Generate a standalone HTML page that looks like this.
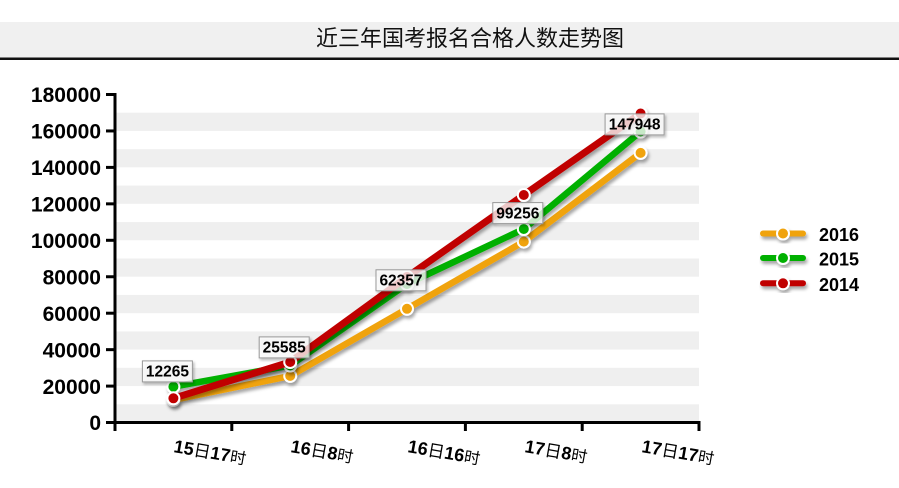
<!DOCTYPE html>
<html><head><meta charset="utf-8">
<style>
html,body{margin:0;padding:0;background:#fff;}
svg{display:block;}
</style></head>
<body>
<svg width="899" height="488" viewBox="0 0 899 488" xmlns="http://www.w3.org/2000/svg">
<defs>
<filter id="sh" x="-10%" y="-10%" width="130%" height="140%">
<feDropShadow dx="1.5" dy="3" stdDeviation="1.6" flood-color="#000" flood-opacity="0.35"/>
</filter>
<filter id="sh2" x="-20%" y="-30%" width="150%" height="180%">
<feDropShadow dx="1.5" dy="2" stdDeviation="1.2" flood-color="#000" flood-opacity="0.3"/>
</filter>
</defs>

<!-- title bar -->
<rect x="0" y="22" width="899" height="35.5" fill="#f0f0f0"/>
<rect x="0" y="57.5" width="899" height="2.5" fill="#111"/>
<text x="470" y="46" text-anchor="middle" font-family="'Liberation Sans','Noto Sans CJK SC',sans-serif" font-size="22" fill="#111">近三年国考报名合格人数走势图</text>

<!-- bands -->
<g fill="#efefef">
<rect x="116.5" y="404.3" width="582.5" height="18.2"/>
<rect x="116.5" y="367.85" width="582.5" height="18.2"/>
<rect x="116.5" y="331.4" width="582.5" height="18.2"/>
<rect x="116.5" y="294.95" width="582.5" height="18.2"/>
<rect x="116.5" y="258.5" width="582.5" height="18.2"/>
<rect x="116.5" y="222.05" width="582.5" height="18.2"/>
<rect x="116.5" y="185.6" width="582.5" height="18.2"/>
<rect x="116.5" y="149.15" width="582.5" height="18.2"/>
<rect x="116.5" y="112.7" width="582.5" height="18.2"/>
</g>

<!-- axes -->
<g stroke="#000" stroke-width="3" fill="none">
<line x1="115" y1="93.5" x2="115" y2="424"/>
<line x1="113.5" y1="422.5" x2="700.5" y2="422.5"/>
<line x1="106" y1="94.5" x2="116.5" y2="94.5"/>
<line x1="106" y1="130.95" x2="115" y2="130.95"/>
<line x1="106" y1="167.4" x2="115" y2="167.4"/>
<line x1="106" y1="203.85" x2="115" y2="203.85"/>
<line x1="106" y1="240.3" x2="115" y2="240.3"/>
<line x1="106" y1="276.75" x2="115" y2="276.75"/>
<line x1="106" y1="313.2" x2="115" y2="313.2"/>
<line x1="106" y1="349.65" x2="115" y2="349.65"/>
<line x1="106" y1="386.1" x2="115" y2="386.1"/>
<line x1="106" y1="422.5" x2="115" y2="422.5"/>
<line x1="115" y1="422.5" x2="115" y2="431"/>
<line x1="231.8" y1="422.5" x2="231.8" y2="431"/>
<line x1="348.6" y1="422.5" x2="348.6" y2="431"/>
<line x1="465.4" y1="422.5" x2="465.4" y2="431"/>
<line x1="582.2" y1="422.5" x2="582.2" y2="431"/>
<line x1="699" y1="422.5" x2="699" y2="431"/>
</g>

<!-- y labels -->
<g font-family="'Liberation Sans',sans-serif" font-weight="bold" font-size="21" fill="#000" text-anchor="end">
<text x="101" y="102.2">180000</text>
<text x="101" y="138.6">160000</text>
<text x="101" y="175.1">140000</text>
<text x="101" y="211.5">120000</text>
<text x="101" y="248">100000</text>
<text x="101" y="284.4">80000</text>
<text x="101" y="320.9">60000</text>
<text x="101" y="357.3">40000</text>
<text x="101" y="393.8">20000</text>
<text x="101" y="430.2">0</text>
</g>

<!-- x labels -->
<g font-family="'Liberation Sans','Noto Sans CJK SC',sans-serif" font-weight="bold" font-size="18" fill="#000">
<text x="173" y="452" transform="rotate(10 173 452)">15<tspan font-weight="normal" font-size="17">日</tspan>17<tspan font-weight="normal" font-size="16">时</tspan></text>
<text x="290" y="452" transform="rotate(10 290 452)">16<tspan font-weight="normal" font-size="17">日</tspan>8<tspan font-weight="normal" font-size="16">时</tspan></text>
<text x="407" y="452" transform="rotate(10 407 452)">16<tspan font-weight="normal" font-size="17">日</tspan>16<tspan font-weight="normal" font-size="16">时</tspan></text>
<text x="524" y="452" transform="rotate(10 524 452)">17<tspan font-weight="normal" font-size="17">日</tspan>8<tspan font-weight="normal" font-size="16">时</tspan></text>
<text x="641" y="452" transform="rotate(10 641 452)">17<tspan font-weight="normal" font-size="17">日</tspan>17<tspan font-weight="normal" font-size="16">时</tspan></text>
</g>

<!-- series 2016 orange -->
<g filter="url(#sh)">
<polyline points="173.4,399.9 290.2,375.9 407,308.8 523.8,241.6 640.6,152.9" fill="none" stroke="#f0a30a" stroke-width="6.5" stroke-linejoin="round" stroke-linecap="round"/>
<g fill="#f0a30a" stroke="#fff" stroke-width="2">
<circle cx="173.4" cy="399.9" r="6"/><circle cx="290.2" cy="375.9" r="6"/><circle cx="407" cy="308.8" r="6"/><circle cx="523.8" cy="241.6" r="6"/><circle cx="640.6" cy="152.9" r="6"/>
</g>
</g>
<!-- series 2015 green -->
<g filter="url(#sh)">
<polyline points="173.4,386.7 290.2,365.5 407,284 523.8,229 640.6,131.5" fill="none" stroke="#00b000" stroke-width="6.5" stroke-linejoin="round" stroke-linecap="round"/>
<g fill="#00b000" stroke="#fff" stroke-width="2">
<circle cx="173.4" cy="386.7" r="6"/><circle cx="290.2" cy="365.5" r="6"/><circle cx="407" cy="284" r="6"/><circle cx="523.8" cy="229" r="6"/><circle cx="640.6" cy="131.5" r="6"/>
</g>
</g>
<!-- series 2014 red -->
<g filter="url(#sh)">
<polyline points="173.4,398.3 290.2,362 407,277 523.8,195 640.6,113.5" fill="none" stroke="#c00000" stroke-width="7" stroke-linejoin="round" stroke-linecap="round"/>
<g fill="#c00000" stroke="#fff" stroke-width="2">
<circle cx="173.4" cy="398.3" r="6"/><circle cx="290.2" cy="362" r="6"/><circle cx="407" cy="277" r="6"/><circle cx="523.8" cy="195" r="6"/><circle cx="640.6" cy="113.5" r="6"/>
</g>
</g>

<!-- data labels -->
<g font-family="'Liberation Sans',sans-serif" font-weight="bold" font-size="15.5" fill="#000" text-anchor="middle">
<rect x="142.4" y="360.9" width="50" height="21" fill="#fff" fill-opacity="0.75" stroke="#999" stroke-width="1" filter="url(#sh2)"/>
<text x="167.4" y="376.7">12265</text>
<rect x="259.2" y="336.9" width="50" height="21" fill="#fff" fill-opacity="0.75" stroke="#999" stroke-width="1" filter="url(#sh2)"/>
<text x="284.2" y="352.7">25585</text>
<rect x="376" y="269.8" width="50" height="21" fill="#fff" fill-opacity="0.75" stroke="#999" stroke-width="1" filter="url(#sh2)"/>
<text x="401" y="285.6">62357</text>
<rect x="492.8" y="202.6" width="50" height="21" fill="#fff" fill-opacity="0.75" stroke="#999" stroke-width="1" filter="url(#sh2)"/>
<text x="517.8" y="218.4">99256</text>
<rect x="605.1" y="113.9" width="59" height="21" fill="#fff" fill-opacity="0.75" stroke="#999" stroke-width="1" filter="url(#sh2)"/>
<text x="634.6" y="129.7">147948</text>
</g>

<!-- legend -->
<g filter="url(#sh)">
<line x1="763" y1="233.5" x2="803" y2="233.5" stroke="#f0a30a" stroke-width="6" stroke-linecap="round"/>
<circle cx="783" cy="233.5" r="6" fill="#f0a30a" stroke="#fff" stroke-width="2"/>
</g>
<g filter="url(#sh)">
<line x1="763" y1="258" x2="803" y2="258" stroke="#00b000" stroke-width="6" stroke-linecap="round"/>
<circle cx="783" cy="258" r="6" fill="#00b000" stroke="#fff" stroke-width="2"/>
</g>
<g filter="url(#sh)">
<line x1="763" y1="283.3" x2="803" y2="283.3" stroke="#c00000" stroke-width="6" stroke-linecap="round"/>
<circle cx="783" cy="283.3" r="6" fill="#c00000" stroke="#fff" stroke-width="2"/>
</g>
<g font-family="'Liberation Sans',sans-serif" font-weight="bold" font-size="18" fill="#000">
<text x="819" y="241">2016</text>
<text x="819" y="265.5">2015</text>
<text x="819" y="290.8">2014</text>
</g>
</svg>
</body></html>
